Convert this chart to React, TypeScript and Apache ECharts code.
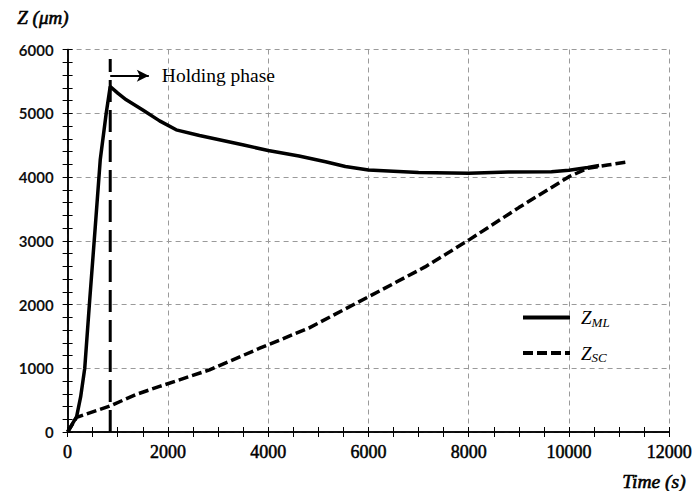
import React, { useEffect, useRef } from "react";
import * as echarts from "echarts";

// Z_ML (solid) readings
const timeML = [0, 180, 260, 342, 440, 550, 651, 770, 850, 1000, 1170, 1500, 1835, 2166, 2630, 3490, 4000, 4615, 5145, 5540, 6000, 7000, 8000, 8790, 9650, 10000, 10375, 10600];
const zML = [0, 240, 550, 1000, 2060, 3200, 4270, 5000, 5420, 5315, 5210, 5050, 4880, 4740, 4650, 4505, 4415, 4330, 4240, 4165, 4110, 4070, 4060, 4078, 4082, 4105, 4150, 4180];

// Z_SC (dashed) readings
const timeSC = [0, 180, 850, 1370, 1835, 2830, 3820, 4810, 6000, 7130, 8000, 9000, 10000, 10375, 10770, 11190];
const zSC = [0, 230, 410, 590, 715, 975, 1310, 1630, 2120, 2590, 3010, 3520, 4005, 4136, 4188, 4240];

// Holding phase marker
const holdTime = [850, 850];
const holdZ = [0, 5850];
const arrowStart = [850, 5590];
const arrowEnd = [1620, 5590];

const xTicks = { min: 0, max: 12000, interval: 2000 };
const yTicks = { min: 0, max: 6000, interval: 1000 };

const serif = "Liberation Serif";

export default function App() {
  const ref = useRef<HTMLDivElement>(null);
  useEffect(() => {
    const chart = echarts.init(ref.current!, null, { renderer: "svg" });
    const frameAxis = {
      axisLine: { show: true, lineStyle: { color: "#000", width: 1.5 } },
      axisTick: { show: true, inside: true, length: 5, lineStyle: { color: "#000", width: 1 } },
      minorTick: { show: true, length: 5, lineStyle: { color: "#000", width: 1 } },
    };
    const grid = { color: "#9a9a9a", width: 1, type: [5, 4] as any };
    const plain = (v: number) => String(v);
    const option: any = {
      animation: false,
      backgroundColor: "#fff",
      grid: { left: 67.6, right: 23.3, top: 49.5, bottom: 59 },
      xAxis: [
        {
          type: "value", ...xTicks, position: "bottom",
          ...frameAxis,
          minorTick: { ...frameAxis.minorTick, splitNumber: 4 },
          splitLine: { show: true, lineStyle: grid },
          axisLabel: {
            fontFamily: serif, fontSize: 18, color: "#000", margin: 11, formatter: plain,
            textBorderColor: "#000", textBorderWidth: 0.5,
          },
        },
        {
          type: "value", ...xTicks, position: "top",
          ...frameAxis,
          minorTick: { ...frameAxis.minorTick, splitNumber: 4 },
          splitLine: { show: false },
          axisLabel: { show: false },
        },
      ],
      yAxis: [
        {
          type: "value", ...yTicks, position: "left",
          ...frameAxis,
          minorTick: { ...frameAxis.minorTick, splitNumber: 5 },
          splitLine: { show: true, lineStyle: grid },
          axisLabel: { fontFamily: "Lato", fontSize: 15, fontWeight: "bold", color: "#111", margin: 14, formatter: plain },
        },
        {
          type: "value", ...yTicks, position: "right",
          ...frameAxis,
          minorTick: { ...frameAxis.minorTick, splitNumber: 5 },
          splitLine: { show: false },
          axisLabel: { show: false },
        },
      ],
      legend: {
        orient: "vertical",
        left: 521,
        top: 308,
        padding: 0,
        itemWidth: 47,
        itemHeight: 14,
        itemGap: 15,
        itemStyle: { opacity: 0, borderWidth: 0 },
        lineStyle: { width: 4 },
        data: ["ZML", "ZSC"],
        formatter: (n: string) => (n === "ZML" ? "{z|Z}{s|ML}" : "{z|Z}{s|SC}"),
        textStyle: {
          padding: [0, 0, 0, 6],
          rich: {
            z: { fontFamily: serif, fontStyle: "italic", fontSize: 19, color: "#000", lineHeight: 22 },
            s: { fontFamily: serif, fontStyle: "italic", fontSize: 13, color: "#000", lineHeight: 13, verticalAlign: "bottom" },
          },
        },
      },
      series: [
        {
          name: "ZML", type: "line", symbol: "none", showSymbol: false,
          data: timeML.map((t, i) => [t, zML[i]]),
          lineStyle: { color: "#000", width: 3.5, type: "solid" },
          itemStyle: { color: "#000" },
          z: 3,
        },
        {
          name: "ZSC", type: "line", symbol: "none", showSymbol: false,
          data: timeSC.map((t, i) => [t, zSC[i]]),
          lineStyle: { color: "#000", width: 3.5, type: [10, 4] },
          itemStyle: { color: "#000" },
          z: 3,
        },
        {
          name: "hold", type: "line", symbol: "none", showSymbol: false,
          data: holdTime.map((t, i) => [t, holdZ[i]]),
          lineStyle: { color: "#000", width: 3, type: [22, 8] },
          z: 4,
          markLine: {
            silent: true,
            symbol: ["none", "arrow"],
            symbolSize: [9, 12],
            lineStyle: { color: "#000", width: 2, type: "solid" },
            label: {
              show: true, position: "end", distance: 13,
              formatter: "Holding phase",
              fontFamily: serif, fontSize: 19.5, color: "#000",
            },
            data: [[{ coord: arrowStart }, { coord: arrowEnd }]],
          },
        },
      ],
      graphic: [
        {
          type: "text", left: 17, top: 8,
          style: { text: "Z (μm)", font: `italic 19px ${serif}`, fill: "#000", stroke: "#000", lineWidth: 0.6 },
        },
        {
          type: "text", right: 9, top: 471,
          style: { text: "Time (s)", font: `italic 19.5px ${serif}`, fill: "#000", stroke: "#000", lineWidth: 0.6 },
        },
      ],
    };
    chart.setOption(option);
    return () => chart.dispose();
  }, []);
  return <div ref={ref} style={{ position: "absolute", left: 0, top: 0, width: 695, height: 491 }} />;
}
